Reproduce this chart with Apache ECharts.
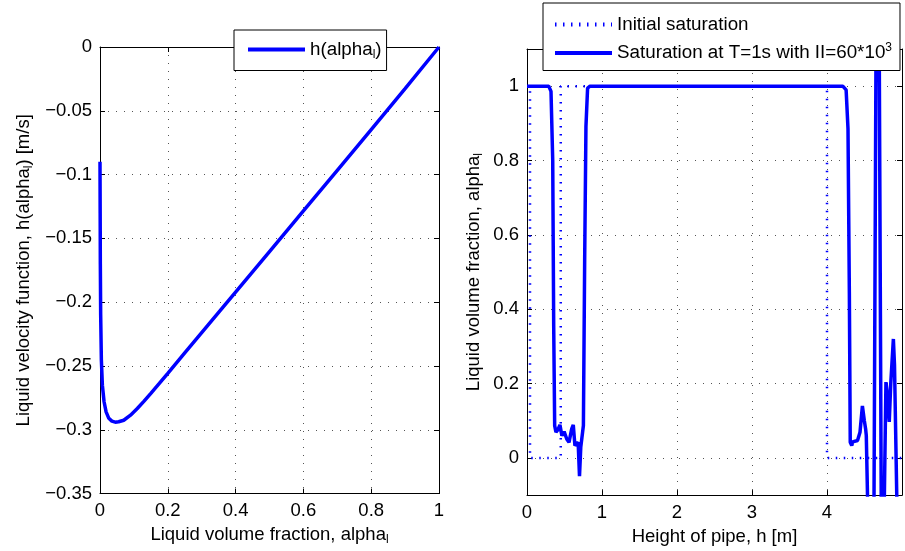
<!DOCTYPE html>
<html><head><meta charset="utf-8">
<script src="https://cdn.jsdelivr.net/npm/echarts@6/dist/echarts.min.js"></script>
<style>html,body{margin:0;padding:0;background:#fff}#c{width:905px;height:551px}</style>
</head><body><div id="c"></div>
<script>
// ---- Left panel: liquid velocity function h(alpha_l) ----
const alphaL = [0, 0.0005, 0.001, 0.002, 0.004, 0.007, 0.012, 0.018, 0.026, 0.035, 0.045, 0.055, 0.07, 0.09, 0.11, 0.13, 0.15, 0.175, 0.2, 0.25, 0.3, 0.35, 0.4, 0.5, 0.6, 0.7, 0.8, 0.9, 1];
const hAlpha = [-0.09, -0.13, -0.17, -0.21, -0.245, -0.265, -0.278, -0.286, -0.291, -0.2932, -0.294, -0.2937, -0.2925, -0.2885, -0.2833, -0.2775, -0.2714, -0.2636, -0.2557, -0.2398, -0.2239, -0.208, -0.1921, -0.1603, -0.1285, -0.0966, -0.0647, -0.0326, 0];

// ---- Right panel: saturation along pipe ----
const pipeHInit = [0, 0.04, 0.04, 0.45, 0.45, 4.0, 4.0, 5.0];
const satInit   = [1, 1, 0, 0, 1, 1, 0, 0];
const pipeHT1 = [0, 0.29, 0.32, 0.343, 0.356, 0.369, 0.386, 0.413, 0.439, 0.465, 0.495, 0.53, 0.56, 0.596, 0.617, 0.639, 0.665, 0.682, 0.70, 0.717, 0.734, 0.752, 0.769, 0.786, 0.808, 0.84,
  4.21, 4.255, 4.28, 4.298, 4.31, 4.33, 4.342, 4.407, 4.44, 4.472, 4.498, 4.515, 4.524, 4.55, 4.585, 4.625, 4.66, 4.675, 4.69, 4.725, 4.745, 4.765, 4.786, 4.80, 4.83, 4.85, 4.885, 4.90, 4.93, 4.97];
const satT1 = [1, 1, 0.986, 0.80, 0.355, 0.087, 0.069, 0.076, 0.089, 0.06, 0.071, 0.051, 0.042, 0.078, 0.089, 0.033, 0.037, 0.042, -0.049, 0.029, 0.025, 0.087, 0.534, 0.892, 0.995, 1,
  1, 0.99, 0.885, 0.445, 0.042, 0.033, 0.043, 0.047, 0.069, 0.14, 0.10, 0.078, 0.06, -0.2, -0.45, -0.2, 1.4, 1.6, 1.4, -0.2, -0.4, -0.1, 0.204, 0.18, 0.097, 0.2, 0.32, 0.25, -0.1, -0.4];

// ---- Tick labels ----
const leftXTicks  = [0, 0.2, 0.4, 0.6, 0.8, 1];
const leftYTicks  = [0, -0.05, -0.1, -0.15, -0.2, -0.25, -0.3, -0.35];
const rightXTicks = [0, 1, 2, 3, 4];
const rightYTicks = [0, 0.2, 0.4, 0.6, 0.8, 1];

const FONT = 'Liberation Sans';
const FS = 18.5;
const zip = (a, b) => a.map((v, i) => [v, b[i]]);
const fmt = (ticks) => (v) => {
  const hit = ticks.find(t => Math.abs(t - v) < 1e-9);
  if (hit === undefined) return '';
  return String(hit).replace('-', '\u2212');
};
const gridLine = { show: true, lineStyle: { color: '#555', width: 1, type: [1, 7] } };
const axLine = { show: true, onZero: false, lineStyle: { color: '#000', width: 1 } };
const tickIn = { show: true, inside: true, length: 5, lineStyle: { color: '#000' } };
const lbl = (ticks, margin) => ({ show: true, margin, fontFamily: FONT, fontSize: FS, color: '#000', formatter: fmt(ticks) });
const rich = {
  sub: { fontFamily: FONT, fontSize: 12, color: '#000', padding: [10, 0, 0, 0] },
  sup: { fontFamily: FONT, fontSize: 12, color: '#000', padding: [0, 0, 10, 0] }
};

const N1 = 'h(alpha_l)', N2 = 'Initial saturation', N3 = 'Saturation at T=1s with II=60*10^3';
const legendText = {};
legendText[N1] = 'h(alpha{sub|l})';
legendText[N2] = 'Initial saturation';
legendText[N3] = 'Saturation at T=1s with II=60*10{sup|3}';

function axesFor(gi, xmin, xmax, xint, ymin, ymax, yint, xt, yt, xname, yname, xgap, ygap) {
  const xs = [
    { type: 'value', gridIndex: gi, position: 'bottom', min: xmin, max: xmax, interval: xint,
      axisLine: axLine, axisTick: tickIn, splitLine: gridLine, axisLabel: lbl(xt, 8),
      name: xname, nameLocation: 'middle', nameGap: xgap,
      nameTextStyle: { fontFamily: FONT, fontSize: FS, color: '#000', rich } },
    { type: 'value', gridIndex: gi, position: 'top', min: xmin, max: xmax, interval: xint,
      axisLine: axLine, axisTick: tickIn, splitLine: { show: false }, axisLabel: { show: false } }
  ];
  const ys = [
    { type: 'value', gridIndex: gi, position: 'left', min: ymin, max: ymax, interval: yint,
      axisLine: axLine, axisTick: tickIn, splitLine: gridLine, axisLabel: lbl(yt, 8),
      name: yname, nameLocation: 'middle', nameGap: ygap, nameRotate: 90,
      nameTextStyle: { fontFamily: FONT, fontSize: FS, color: '#000', rich } },
    { type: 'value', gridIndex: gi, position: 'right', min: ymin, max: ymax, interval: yint,
      axisLine: axLine, axisTick: tickIn, splitLine: { show: false }, axisLabel: { show: false } }
  ];
  return { xs, ys };
}

const A = axesFor(0, 0, 1, 0.2, -0.35, 0, 0.05, leftXTicks, leftYTicks,
  'Liquid volume fraction, alpha{sub|l}', 'Liquid velocity function, h(alpha{sub|l}) [m/s]', 30, 65);
const B = axesFor(1, 0, 5, 1, -0.1, 1.1, null, rightXTicks, rightYTicks,
  'Height of pipe, h [m]', 'Liquid volume fraction, alpha{sub|l}', 30, 42);
B.ys.forEach(y => { delete y.interval; y.splitNumber = 6; });

const legendBase = {
  orient: 'vertical', borderColor: '#000', borderWidth: 1, backgroundColor: '#fff',
  itemWidth: 57, itemHeight: 4, borderRadius: 0, z: 10,
  itemStyle: { color: 'rgba(0,0,0,0)', borderColor: 'rgba(0,0,0,0)', borderWidth: 0 },
  lineStyle: { width: 4 },
  formatter: (n) => legendText[n],
  textStyle: { fontFamily: FONT, fontSize: 18.8, color: '#000', rich }
};

const option = {
  animation: false,
  backgroundColor: '#fff',
  grid: [
    { left: 100, top: 47, width: 339, height: 449, containLabel: false },
    { left: 527, top: 49, width: 383.5, height: 447, containLabel: false }
  ],
  xAxis: [...A.xs, ...B.xs],
  yAxis: [...A.ys, ...B.ys],
  legend: [
    Object.assign({}, legendBase, { data: [N1], left: 234, top: 30, padding: [10, 5, 10, 12], itemGap: 10 }),
    Object.assign({}, legendBase, { data: [N2, N3], left: 543, top: 3, padding: [12, 8, 8, 10], itemGap: 8 })
  ],
  series: [
    { name: N1, type: 'line', xAxisIndex: 0, yAxisIndex: 0, data: zip(alphaL, hAlpha),
      symbol: 'none', showSymbol: false, clip: true, lineStyle: { color: '#0000ff', width: 3.5 }, itemStyle: { color: '#0000ff' } },
    { name: N2, type: 'line', xAxisIndex: 2, yAxisIndex: 2, data: zip(pipeHInit, satInit),
      symbol: 'none', showSymbol: false, clip: true, lineStyle: { color: '#0000ff', width: 2.5, type: [1.5, 6.5] }, itemStyle: { color: '#0000ff' } },
    { name: N3, type: 'line', xAxisIndex: 2, yAxisIndex: 2, data: zip(pipeHT1, satT1),
      symbol: 'none', showSymbol: false, clip: true, lineStyle: { color: '#0000ff', width: 3.5 }, itemStyle: { color: '#0000ff' } }
  ]
};
const chart = echarts.init(document.getElementById('c'), null, { renderer: 'canvas' });
chart.setOption(option);
</script>
</body></html>
